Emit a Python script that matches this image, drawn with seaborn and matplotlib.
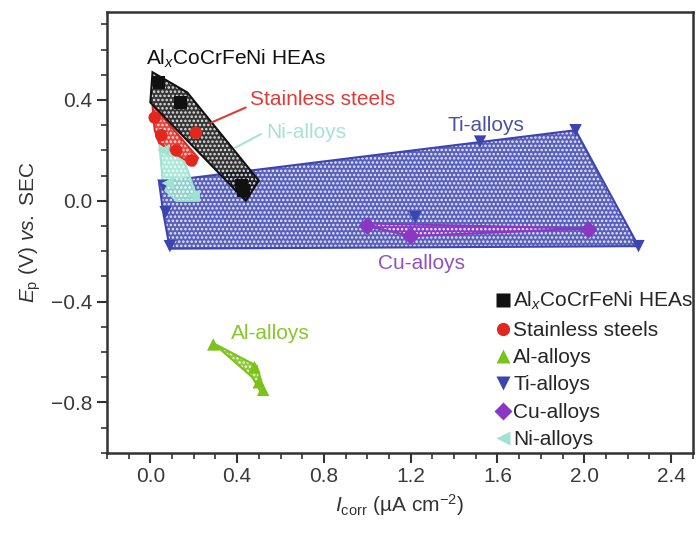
import matplotlib
matplotlib.use("Agg")
import matplotlib.pyplot as plt
import seaborn as sns
import pandas as pd
from matplotlib.ticker import MultipleLocator

# ---------------- data ----------------
groups = ["AlxCoCrFeNi HEAs", "Stainless steels", "Al-alloys", "Ti-alloys", "Cu-alloys", "Ni-alloys"]
legend_labels = ["Al$_x$CoCrFeNi HEAs", "Stainless steels", "Al-alloys", "Ti-alloys", "Cu-alloys", "Ni-alloys"]
colors = ["#111111", "#e2281e", "#7cc21a", "#3c44b0", "#8a38c4", "#9fe3d2"]
markers = ["s", "o", "^", "v", "D", "<"]

# data points (I_corr, E_p)
hea_x = [0.04, 0.14, 0.42, 0.43]
hea_y = [0.47, 0.39, 0.06, 0.04]
ss_x = [0.02, 0.05, 0.12, 0.19, 0.21]
ss_y = [0.33, 0.26, 0.20, 0.16, 0.27]
al_x = [0.29, 0.48, 0.50, 0.52]
al_y = [-0.57, -0.66, -0.72, -0.75]
ti_x = [0.06, 0.07, 0.09, 1.22, 1.52, 1.96, 2.25]
ti_y = [0.06, -0.045, -0.18, -0.065, 0.235, 0.28, -0.18]
cu_x = [1.00, 1.20, 2.02]
cu_y = [-0.10, -0.14, -0.115]
ni_x = [0.06, 0.08, 0.20]
ni_y = [0.20, 0.07, 0.02]

# enclosing regions
hea_poly_x = [0.01, 0.17, 0.50, 0.44, 0.00]
hea_poly_y = [0.51, 0.43, 0.08, 0.00, 0.39]
ss_poly_x = [0.01, 0.22, 0.20, 0.04, 0.02]
ss_poly_y = [0.38, 0.17, 0.14, 0.23, 0.28]
ni_poly_x = [0.04, 0.16, 0.22, 0.12, 0.06]
ni_poly_y = [0.24, 0.15, 0.00, 0.00, 0.05]
ti_poly_x = [0.04, 1.96, 2.25, 0.09, 0.06]
ti_poly_y = [0.075, 0.28, -0.18, -0.19, -0.05]
cu_poly_x = [1.00, 2.02, 1.20, 1.00]
cu_poly_y = [-0.09, -0.11, -0.14, -0.10]
al_poly_x = [0.29, 0.49, 0.52, 0.51, 0.47]
al_poly_y = [-0.565, -0.655, -0.74, -0.76, -0.70]

x_ticks = [0.0, 0.4, 0.8, 1.2, 1.6, 2.0, 2.4]
y_ticks = [-0.8, -0.4, 0.0, 0.4]

# ---------------- style ----------------
sns.set_style("white")
plt.rcParams["font.family"] = ["Liberation Sans", "DejaVu Sans"]
plt.rcParams["mathtext.fontset"] = "custom"
plt.rcParams["mathtext.rm"] = "Liberation Sans"
plt.rcParams["mathtext.it"] = "Liberation Sans:italic"
plt.rcParams["hatch.linewidth"] = 1.2

FS = 15

fig = plt.figure(figsize=(6.99, 5.34), dpi=100)
ax = fig.add_axes([0.153, 0.152, 0.838, 0.826])

polys = [
    (ti_poly_x, ti_poly_y, colors[3], 1),
    (cu_poly_x, cu_poly_y, colors[4], 2),
    (ni_poly_x, ni_poly_y, colors[5], 3),
    (ss_poly_x, ss_poly_y, colors[1], 4),
    (hea_poly_x, hea_poly_y, colors[0], 5),
    (al_poly_x, al_poly_y, colors[2], 6),
]
for px, py, c, z in polys:
    ax.fill(px, py, facecolor=c, edgecolor="white", hatch="....", lw=0, zorder=z, alpha=0.85)
    ax.fill(px, py, fill=False, edgecolor=c, lw=1.5, zorder=z + 0.1)

xs = [hea_x, ss_x, al_x, ti_x, cu_x, ni_x]
ys = [hea_y, ss_y, al_y, ti_y, cu_y, ni_y]
rows = []
for g, xx, yy in zip(legend_labels, xs, ys):
    for a, b in zip(xx, yy):
        rows.append({"I": a, "E": b, "group": g})
df = pd.DataFrame(rows)

sns.scatterplot(data=df, x="I", y="E", hue="group", style="group",
                hue_order=legend_labels, style_order=legend_labels,
                palette=dict(zip(legend_labels, colors)),
                markers=dict(zip(legend_labels, markers)),
                s=80, edgecolor="none", ax=ax, zorder=7)

leg = ax.legend(loc="lower right", bbox_to_anchor=(1.022, -0.02), frameon=False,
                fontsize=FS, handletextpad=0.05, labelspacing=0.40,
                handlelength=0.9, borderaxespad=0.2)
for h in leg.legend_handles:
    if hasattr(h, "set_markersize"):
        h.set_markersize(9.5)
    elif hasattr(h, "set_sizes"):
        h.set_sizes([90])

# annotations
ax.text(-0.02, 0.565, "Al$_x$CoCrFeNi HEAs", color="#111111", fontsize=FS, va="center", ha="left")
ax.text(0.46, 0.40, "Stainless steels", color="#e03a36", fontsize=FS, va="center", ha="left")
ax.plot([0.28, 0.44], [0.31, 0.37], color="#e03a36", lw=1.5, zorder=8)
ax.text(0.535, 0.27, "Ni-alloys", color="#a6e2d8", fontsize=FS, va="center", ha="left")
ax.plot([0.39, 0.51], [0.21, 0.265], color="#a6e2d8", lw=1.5, zorder=8)
ax.text(1.37, 0.30, "Ti-alloys", color="#4a52a4", fontsize=FS, va="center", ha="left")
ax.text(1.05, -0.25, "Cu-alloys", color="#9050c0", fontsize=FS, va="center", ha="left")
ax.text(0.37, -0.525, "Al-alloys", color="#86c82a", fontsize=FS, va="center", ha="left")

ax.set_xlim(-0.2, 2.5)
ax.set_ylim(-1.0, 0.75)
ax.set_xticks(x_ticks)
ax.set_yticks(y_ticks)
ax.set_xticklabels([f"{v:.1f}" for v in x_ticks])
ax.set_yticklabels([f"{v:.1f}".replace("-", "\u2212") for v in y_ticks])
ax.xaxis.set_minor_locator(MultipleLocator(0.1))
ax.yaxis.set_minor_locator(MultipleLocator(0.1))
ax.tick_params(axis="both", which="major", direction="out", length=7, width=1.5,
               labelsize=FS, colors="#333333", labelcolor="#3a3a3a", top=False, right=False,
               bottom=True, left=True)
ax.tick_params(axis="both", which="minor", direction="out", length=4, width=1.2,
               top=False, right=False, bottom=True, left=True, colors="#333333")
for s in ax.spines.values():
    s.set_color("#333333")
    s.set_linewidth(1.8)

ax.set_xlabel("$\\mathit{I}_\\mathrm{corr}$ (\u00b5A cm$^{\\mathrm{-2}}$)", fontsize=FS, color="#333333", labelpad=4)
ax.set_ylabel("$\\mathit{E}_\\mathrm{p}$ (V) $\\mathit{vs.}$ SEC", fontsize=FS, color="#333333", labelpad=6)

fig.savefig("out.png", dpi=100)
